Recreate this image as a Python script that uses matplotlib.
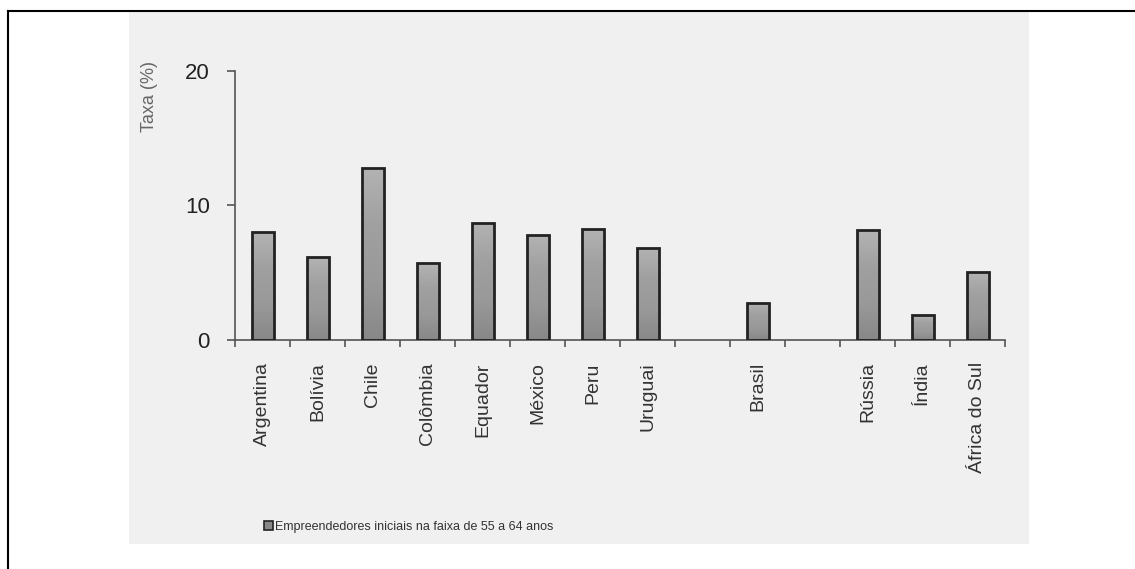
import numpy as np
import matplotlib
matplotlib.use("Agg")
import matplotlib.pyplot as plt
from matplotlib.patches import Rectangle, Patch
from matplotlib.colors import LinearSegmentedColormap

plt.rcParams['font.family'] = ['Liberation Sans', 'DejaVu Sans']

# data
latam = ['Argentina', 'Bolívia', 'Chile', 'Colômbia', 'Equador', 'México', 'Peru', 'Uruguai']
latam_vals = [8.0, 6.15, 12.8, 5.7, 8.7, 7.8, 8.25, 6.85]
brasil = ['Brasil']
brasil_vals = [2.75]
outros = ['Rússia', 'Índia', 'África do Sul']
outros_vals = [8.15, 1.85, 5.05]
y_ticks = [0, 10, 20]
ylabel = 'Taxa (%)'
legend_label = 'Empreendedores iniciais na faixa de 55 a 64 anos'

# groups separated by one empty slot
groups = [(latam, latam_vals), (brasil, brasil_vals), (outros, outros_vals)]
labels, values, xpos = [], [], []
pos = 0
for names, vals in groups:
    for n, v in zip(names, vals):
        labels.append(n)
        values.append(v)
        xpos.append(pos)
        pos += 1
    pos += 1
nslots = pos - 1

W, H = 1135, 569
fig = plt.figure(figsize=(W / 100, H / 100), dpi=100)
fig.patch.set_facecolor('white')

# grey panel and outer frame lines
fig.add_artist(Rectangle((129 / W, 1 - 544 / H), 900 / W, 532 / H,
                         transform=fig.transFigure, facecolor='#f0f0f0', edgecolor='none', zorder=0))
fig.add_artist(plt.Line2D([8 / W, 1], [1 - 11 / H, 1 - 11 / H], transform=fig.transFigure,
                          color='black', lw=1.5))
fig.add_artist(plt.Line2D([8 / W, 8 / W], [0, 1 - 11 / H], transform=fig.transFigure,
                          color='black', lw=1.5))

ax = fig.add_axes([235 / W, 1 - 340 / H, 770 / W, (340 - 70.7) / H])
ax.set_facecolor('none')

bw = 0.4
cmap = LinearSegmentedColormap.from_list('g', ['#888888', '#999999', '#a0a0a0', '#b3b3b3'])
grad = np.linspace(0, 1, 256).reshape(-1, 1)
bars = ax.bar(xpos, values, width=bw, facecolor='none', edgecolor='#222222', linewidth=2.0, zorder=3)
for b in bars:
    x0, w, h = b.get_x(), b.get_width(), b.get_height()
    im = ax.imshow(grad, cmap=cmap, aspect='auto', origin='lower',
                   extent=[x0, x0 + w, 0, h], zorder=2)
    im.set_clip_path(b)
ax.set_xlim(-0.5, nslots - 0.5)
ax.set_ylim(0, 20)

for s in ['top', 'right']:
    ax.spines[s].set_visible(False)
for s in ['left', 'bottom']:
    ax.spines[s].set_color('#555555')
    ax.spines[s].set_linewidth(1.2)

ax.set_yticks(y_ticks)
ax.tick_params(axis='y', length=6, width=1.2, color='#555555', pad=12,
               labelsize=16, labelcolor='#222222')
ax.set_xticks(np.arange(-0.5, nslots, 1.0))
ax.set_xticklabels([])
ax.tick_params(axis='x', length=5, width=1.2, color='#555555')
ax.set_xticks(xpos, minor=True)
ax.set_xticklabels(labels, minor=True, rotation=90, va='top', ha='center',
                   fontsize=14, color='#333333')
ax.tick_params(axis='x', which='minor', length=0, pad=16)

fig.text(150 / W, 1 - 96 / H, ylabel, rotation=90, ha='center', va='center',
         fontsize=13, color='#666666')

handle = Patch(facecolor='#888888', edgecolor='#222222', linewidth=1.2)
leg = fig.legend([handle], [legend_label], loc='center', bbox_to_anchor=(409 / W, 1 - 527 / H),
                 frameon=False, handlelength=0.7, handleheight=0.7, handletextpad=0.2,
                 prop={'size': 9})
for t in leg.get_texts():
    t.set_color('#333333')

fig.savefig('out.png', dpi=100)
